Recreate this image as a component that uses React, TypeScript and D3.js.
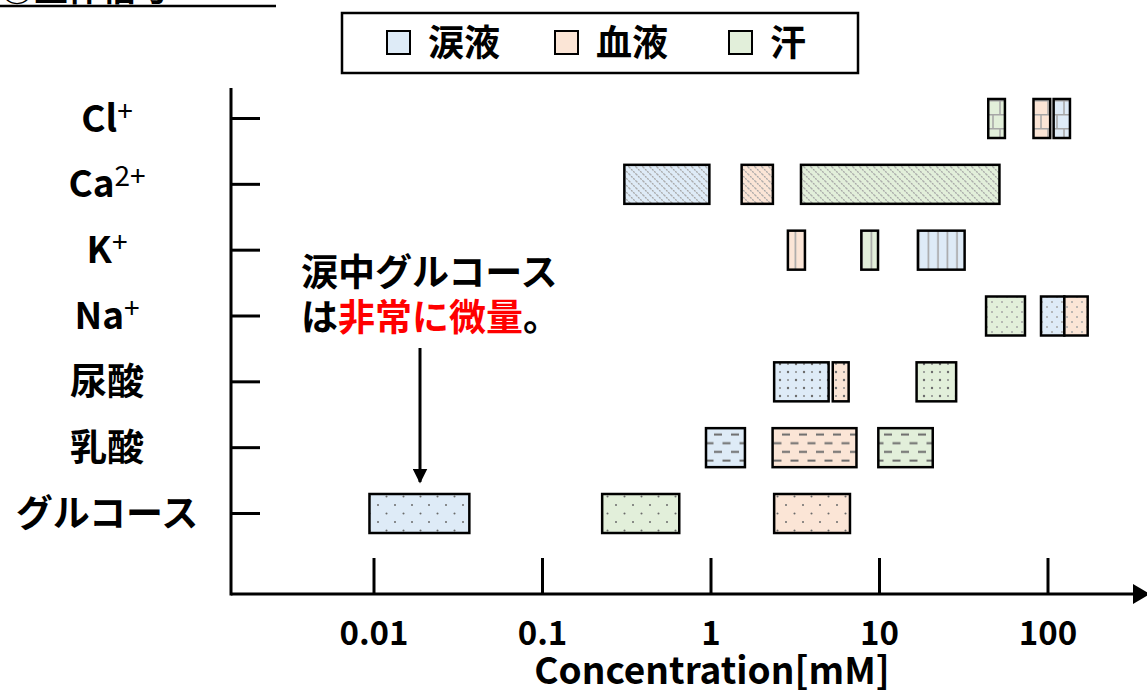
import React from 'react'
import { scaleLog, scalePoint } from 'd3'

const categories = ['Cl', 'Ca', 'K', 'Na', '尿酸', '乳酸', 'グルコース']
const categorySup = ['+', '2+', '+', '+', '', '', '']
const categoryPattern = ['brick', 'diag', 'vert', 'dot', 'dot2', 'dash', 'dot3']

// [low, high] concentration in mM
const tearRange = [[108, 135], [0.306, 0.978], [16.9, 32], [90.9, 125], [2.37, 4.99], [0.934, 1.59], [0.0094, 0.0368]]
const bloodRange = [[82, 103], [1.52, 2.33], [2.86, 3.61], [125, 172], [5.28, 6.56], [2.32, 7.3], [2.37, 6.68]]
const sweatRange = [[44.2, 55.5], [3.42, 51.5], [7.8, 9.8], [42.9, 73], [16.6, 28.5], [9.84, 20.7], [0.226, 0.648]]

const xTicks = [0.01, 0.1, 1, 10, 100]
const xTickLabels = ['0.01', '0.1', '1', '10', '100']

const seriesNames = ['涙液', '血液', '汗']
const seriesColors = ['#deebf7', '#fbe5d6', '#e2efda']
const seriesData = [tearRange, bloodRange, sweatRange]

const font = '"Noto Sans CJK JP", "Noto Sans", sans-serif'

const Pattern = ({ id, kind, fill }) => {
  const g = '#a6a6a6'
  const d = '#6b6b6b'
  if (kind === 'brick') return (
    <pattern id={id} width={16} height={28} patternUnits='userSpaceOnUse' x={0} y={100}>
      <rect width={16} height={28} fill={fill} />
      <line x1={0} x2={16} y1={0.75} y2={0.75} stroke={g} strokeWidth={1.5} />
      <line x1={0} x2={16} y1={14.75} y2={14.75} stroke={g} strokeWidth={1.5} />
      <line x1={8} x2={8} y1={0} y2={14} stroke={g} strokeWidth={1.5} />
      <line x1={1} x2={1} y1={14} y2={28} stroke={g} strokeWidth={1.5} />
    </pattern>
  )
  if (kind === 'diag') return (
    <pattern id={id} width={7} height={7} patternUnits='userSpaceOnUse'>
      <rect width={7} height={7} fill={fill} />
      <path d='M-1,-1 L8,8 M-1,6 L1,8 M6,-1 L8,1' stroke={g} strokeWidth={1.3} strokeDasharray='2 1' />
    </pattern>
  )
  if (kind === 'vert') return (
    <pattern id={id} width={9.5} height={10} patternUnits='userSpaceOnUse' x={3}>
      <rect width={9.5} height={10} fill={fill} />
      <line x1={4} x2={4} y1={0} y2={10} stroke={g} strokeWidth={1.6} />
    </pattern>
  )
  if (kind === 'dot') return (
    <pattern id={id} width={10} height={10} patternUnits='userSpaceOnUse'>
      <rect width={10} height={10} fill={fill} />
      <circle cx={2} cy={2} r={1} fill={g} />
      <circle cx={7} cy={7} r={1} fill={g} />
    </pattern>
  )
  if (kind === 'dot2') return (
    <pattern id={id} width={16} height={16} patternUnits='userSpaceOnUse'>
      <rect width={16} height={16} fill={fill} />
      <circle cx={4} cy={4} r={1.2} fill={d} />
      <circle cx={12} cy={12} r={1.2} fill={d} />
      <circle cx={12} cy={4} r={1} fill='#888' />
      <circle cx={4} cy={12} r={1} fill='#888' />
    </pattern>
  )
  if (kind === 'dash') return (
    <pattern id={id} width={17} height={17.4} patternUnits='userSpaceOnUse' y={430}>
      <rect width={17} height={17.4} fill={fill} />
      <line x1={0} x2={8} y1={4.5} y2={4.5} stroke={d} strokeWidth={2} />
      <line x1={8.5} x2={16.5} y1={13.2} y2={13.2} stroke={d} strokeWidth={2} />
    </pattern>
  )
  return (
    <pattern id={id} width={17} height={17} patternUnits='userSpaceOnUse' y={496}>
      <rect width={17} height={17} fill={fill} />
      <circle cx={4} cy={9} r={1} fill={d} />
      <circle cx={12.5} cy={0.5} r={1} fill={d} />
      <circle cx={12.5} cy={17.5} r={1} fill={d} />
    </pattern>
  )
}

const App = () => {
  const width = 1147
  const height = 694
  const axisY = 594
  const axisX = 231
  const barH = 39

  const x = scaleLog().domain([0.01, 100]).range([374, 1048])
  const y = scalePoint().domain(categories).range([118.5, 513.5])

  const patterns = categoryPattern.flatMap((p, i) =>
    seriesColors.map((c, s) => <Pattern key={`${p}-${s}-${i}`} id={`${p}-${s}`} kind={p} fill={c} />)
  )

  const bars = seriesData.flatMap((ranges, s) =>
    ranges.map((r, i) => (
      <rect
        key={`${s}-${i}`}
        x={x(r[0])}
        y={y(categories[i]) - barH / 2}
        width={x(r[1]) - x(r[0])}
        height={barH}
        fill={`url(#${categoryPattern[i]}-${s})`}
        stroke='#000'
        strokeWidth={2.5}
      />
    ))
  )

  const yLabels = categories.map((c, i) => (
    <g key={c}>
      <line x1={axisX} x2={260} y1={y(c)} y2={y(c)} stroke='#000' strokeWidth={3} />
      <text x={107} y={y(c) + 13} textAnchor='middle' fontSize={37} fontWeight='bold'>
        {c}
        {categorySup[i] && <tspan fontSize={28} fontWeight='normal' dy={-11}>{categorySup[i]}</tspan>}
      </text>
    </g>
  ))

  const xAxis = xTicks.map((t, i) => (
    <g key={t}>
      <line x1={x(t)} x2={x(t)} y1={558} y2={axisY} stroke='#000' strokeWidth={3} />
      <text x={x(t)} y={645} textAnchor='middle' fontSize={33} fontWeight='bold'>{xTickLabels[i]}</text>
    </g>
  ))

  const legendX = [387, 555, 729]
  const legend = seriesNames.map((n, i) => (
    <g key={n}>
      <rect x={legendX[i]} y={31} width={23} height={23} fill={seriesColors[i]} stroke='#000' strokeWidth={2} />
      <text x={legendX[i] + 41} y={56} fontSize={36} fontWeight='bold'>{n}</text>
    </g>
  ))

  return (
    <svg width={width} height={height} viewBox={`0 0 ${width} ${height}`}
      style={{ position: 'absolute', left: 0, top: 0, fontFamily: font }}>
      <defs>
        {patterns}
        <marker id='arr' viewBox='0 0 10 10' refX={9} refY={5} markerWidth={5} markerHeight={5} orient='auto'>
          <path d='M0,0 L10,5 L0,10 z' fill='#000' />
        </marker>
      </defs>
      <rect width={width} height={height} fill='#fff' />

      <text x={0} y={1} fontSize={34} fontWeight='bold'>①生体信号</text>
      <line x1={0} x2={276} y1={6} y2={6} stroke='#000' strokeWidth={2.5} />

      <rect x={342} y={13} width={516} height={60} fill='#fff' stroke='#000' strokeWidth={2.5} />
      {legend}

      {bars}

      <line x1={axisX} x2={axisX} y1={88} y2={axisY + 1.5} stroke='#000' strokeWidth={3} />
      <line x1={axisX} x2={1136} y1={axisY} y2={axisY} stroke='#000' strokeWidth={3} />
      <path d={`M1133,${axisY - 10} L1150,${axisY} L1133,${axisY + 10} z`} fill='#000' />
      {yLabels}
      {xAxis}
      <text x={712} y={684} textAnchor='middle' fontSize={37} fontWeight='bold'>Concentration[mM]</text>

      <text x={301} y={286} fontSize={37} fontWeight='bold'>涙中グルコース</text>
      <text x={301} y={331} fontSize={37} fontWeight='bold'>
        は<tspan fill='#ff0000'>非常に微量</tspan>。
      </text>
      <line x1={420} x2={420} y1={348} y2={482} stroke='#000' strokeWidth={3} markerEnd='url(#arr)' />
    </svg>
  )
}

export default App
